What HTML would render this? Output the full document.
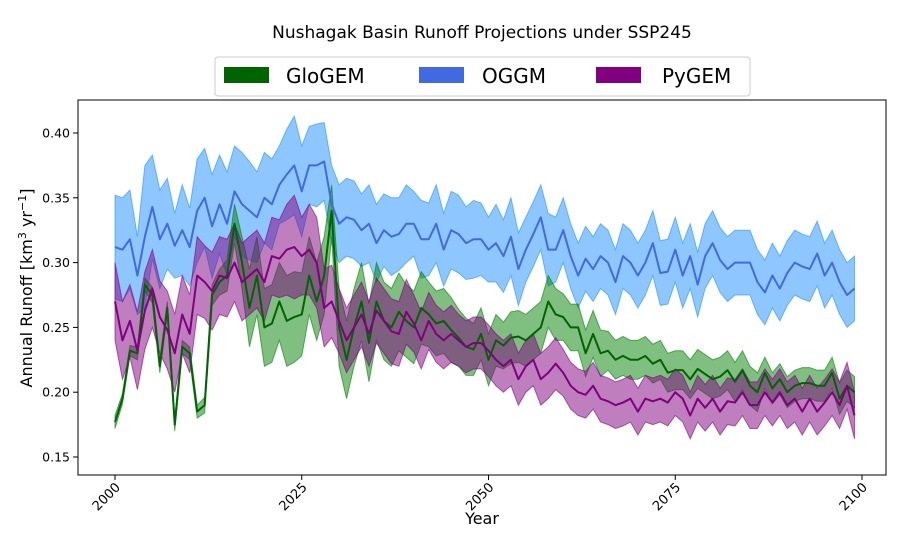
<!DOCTYPE html>
<html><head><meta charset="utf-8"><style>
body{margin:0;background:#fff;}
svg{display:block;font-family:"DejaVu Sans","Liberation Sans",sans-serif;}
</style></head><body>
<svg id="chart" width="900" height="540" viewBox="0 0 900 540">
<text x="482" y="38" font-size="17" text-anchor="middle">Nushagak Basin Runoff Projections under SSP245</text>
<g>
<rect x="215" y="57" width="535" height="39" rx="3" fill="#fff" stroke="#ccc"/>
<g><rect x="224" y="67" width="45" height="16" fill="#006400"/><text x="286" y="83" font-size="20">GloGEM</text></g>
<g><rect x="419" y="67" width="45" height="16" fill="#4169e1"/><text x="482" y="83" font-size="20">OGGM</text></g>
<g><rect x="596" y="67" width="45" height="16" fill="#800080"/><text x="662" y="83" font-size="20">PyGEM</text></g>
</g>
<g id="plot"></g>
<rect x="78" y="100" width="808" height="375" fill="none" stroke="#000" stroke-width="1"/>
<g id="axes"></g>
<text x="482" y="524" font-size="16" text-anchor="middle">Year</text>
<text transform="translate(32,288) rotate(-90)" font-size="16" text-anchor="middle">Annual Runoff [km<tspan baseline-shift="super" font-size="11">3</tspan> yr<tspan baseline-shift="super" font-size="11">−1</tspan>]</text>
</svg>
<script>
const startYear = 2000;
const oggmMean = [0.312,0.310,0.318,0.290,0.320,0.343,0.318,0.330,0.313,0.325,0.312,0.340,0.350,0.328,0.345,0.330,0.355,0.345,0.340,0.335,0.350,0.345,0.360,0.368,0.375,0.355,0.375,0.375,0.378,0.345,0.330,0.335,0.333,0.325,0.330,0.315,0.325,0.320,0.322,0.330,0.330,0.318,0.318,0.330,0.310,0.325,0.322,0.315,0.318,0.318,0.310,0.315,0.305,0.320,0.295,0.310,0.322,0.335,0.310,0.310,0.325,0.305,0.290,0.303,0.295,0.305,0.300,0.285,0.305,0.300,0.290,0.300,0.315,0.292,0.293,0.310,0.290,0.305,0.283,0.305,0.315,0.302,0.295,0.300,0.300,0.300,0.285,0.277,0.290,0.280,0.292,0.300,0.297,0.295,0.307,0.290,0.300,0.285,0.275,0.280];
const oggmSpread = [0.040,0.040,0.038,0.030,0.055,0.040,0.038,0.035,0.025,0.035,0.030,0.040,0.038,0.040,0.038,0.040,0.035,0.040,0.038,0.035,0.035,0.035,0.030,0.035,0.038,0.035,0.030,0.032,0.030,0.030,0.030,0.030,0.030,0.028,0.030,0.030,0.028,0.030,0.028,0.030,0.025,0.030,0.028,0.030,0.028,0.030,0.030,0.028,0.030,0.028,0.025,0.030,0.028,0.030,0.028,0.025,0.025,0.025,0.028,0.025,0.025,0.025,0.025,0.025,0.025,0.025,0.025,0.025,0.025,0.025,0.025,0.025,0.025,0.025,0.025,0.025,0.025,0.025,0.025,0.025,0.025,0.025,0.025,0.025,0.025,0.025,0.025,0.025,0.025,0.025,0.025,0.025,0.025,0.025,0.025,0.025,0.025,0.025,0.025,0.025];
const glogemMean = [0.177,0.195,0.232,0.230,0.283,0.275,0.220,0.265,0.175,0.235,0.230,0.185,0.190,0.275,0.285,0.290,0.330,0.300,0.265,0.290,0.250,0.253,0.270,0.255,0.258,0.260,0.290,0.270,0.290,0.340,0.250,0.225,0.250,0.270,0.238,0.270,0.255,0.250,0.262,0.255,0.250,0.265,0.260,0.253,0.255,0.248,0.242,0.235,0.233,0.245,0.225,0.240,0.236,0.242,0.243,0.240,0.245,0.250,0.270,0.260,0.258,0.250,0.250,0.230,0.245,0.230,0.232,0.225,0.228,0.225,0.225,0.228,0.222,0.225,0.215,0.217,0.217,0.210,0.218,0.214,0.210,0.212,0.217,0.208,0.217,0.205,0.200,0.215,0.203,0.210,0.200,0.205,0.207,0.207,0.205,0.205,0.215,0.195,0.205,0.200];
const glogemSpread = [0.005,0.004,0.004,0.005,0.005,0.006,0.005,0.005,0.005,0.005,0.005,0.005,0.006,0.008,0.010,0.012,0.015,0.020,0.030,0.030,0.030,0.030,0.030,0.035,0.035,0.032,0.030,0.030,0.030,0.020,0.030,0.030,0.030,0.030,0.030,0.030,0.030,0.030,0.030,0.028,0.028,0.028,0.025,0.025,0.025,0.025,0.022,0.022,0.020,0.020,0.020,0.020,0.018,0.020,0.020,0.020,0.020,0.020,0.020,0.020,0.018,0.018,0.018,0.018,0.018,0.018,0.015,0.015,0.015,0.015,0.015,0.015,0.015,0.015,0.015,0.015,0.015,0.015,0.015,0.015,0.015,0.015,0.015,0.015,0.015,0.015,0.015,0.012,0.012,0.012,0.012,0.012,0.012,0.012,0.012,0.012,0.012,0.012,0.012,0.012];
const pygemMean = [0.270,0.240,0.255,0.232,0.263,0.280,0.258,0.248,0.230,0.260,0.245,0.290,0.285,0.278,0.290,0.288,0.300,0.285,0.290,0.295,0.285,0.305,0.303,0.310,0.312,0.305,0.310,0.300,0.265,0.270,0.255,0.240,0.250,0.260,0.245,0.263,0.255,0.247,0.245,0.262,0.253,0.240,0.255,0.245,0.240,0.245,0.240,0.235,0.238,0.238,0.232,0.225,0.220,0.225,0.210,0.220,0.225,0.210,0.215,0.222,0.215,0.205,0.200,0.198,0.205,0.195,0.193,0.190,0.192,0.195,0.185,0.195,0.193,0.195,0.192,0.200,0.195,0.182,0.195,0.188,0.195,0.185,0.193,0.192,0.200,0.190,0.190,0.200,0.192,0.200,0.190,0.195,0.185,0.195,0.185,0.192,0.200,0.190,0.205,0.182];
const pygemSpread = [0.030,0.030,0.028,0.030,0.030,0.030,0.028,0.030,0.030,0.030,0.030,0.030,0.028,0.030,0.030,0.030,0.030,0.030,0.030,0.030,0.030,0.030,0.030,0.035,0.040,0.030,0.035,0.035,0.030,0.028,0.025,0.025,0.025,0.025,0.025,0.025,0.025,0.025,0.025,0.025,0.022,0.022,0.022,0.022,0.022,0.022,0.020,0.020,0.020,0.020,0.020,0.020,0.020,0.020,0.020,0.020,0.020,0.020,0.020,0.020,0.018,0.018,0.018,0.018,0.018,0.018,0.018,0.018,0.018,0.018,0.018,0.018,0.018,0.018,0.018,0.018,0.018,0.018,0.018,0.018,0.018,0.018,0.018,0.018,0.018,0.018,0.018,0.018,0.018,0.018,0.018,0.018,0.018,0.018,0.018,0.018,0.018,0.018,0.018,0.018];
const xTicks = [2000,2025,2050,2075,2100];
const yTicks = [0.15,0.20,0.25,0.30,0.35,0.40];

const NS='http://www.w3.org/2000/svg';
const xS = y => 115 + (y-2000)*(862-115)/100;
const yS = v => 457 - (v-0.15)*(457-133)/0.25;
const plot = document.getElementById('plot');
const axes = document.getElementById('axes');

function band(mean, spread, fill, name){
  let up = mean.map((m,i)=>xS(startYear+i)+','+yS(m+spread[i]));
  let lo = mean.map((m,i)=>xS(startYear+i)+','+yS(m-spread[i])).reverse();
  const p = document.createElementNS(NS,'polygon');
  p.setAttribute('points', up.concat(lo).join(' '));
  p.setAttribute('fill', fill);
  p.setAttribute('fill-opacity','0.5');
  p.setAttribute('stroke', fill);
  p.setAttribute('stroke-opacity','0.6');
  p.setAttribute('stroke-width','1');
  
  
  plot.appendChild(p);
}
function line(mean, color, name){
  const p = document.createElementNS(NS,'polyline');
  p.setAttribute('points', mean.map((m,i)=>xS(startYear+i)+','+yS(m)).join(' '));
  p.setAttribute('fill','none');
  p.setAttribute('stroke', color);
  p.setAttribute('stroke-width','2');
  p.setAttribute('stroke-linejoin','round');
  
  
  plot.appendChild(p);
}
band(oggmMean, oggmSpread, '#1e90ff', 'oggm-band');
band(glogemMean, glogemSpread, '#008000', 'glogem-band');
band(pygemMean, pygemSpread, '#800080', 'pygem-band');
line(glogemMean, '#006400', 'glogem-line');
line(oggmMean, '#4169e1', 'oggm-line');
line(pygemMean, '#800080', 'pygem-line');

xTicks.forEach(t=>{
  const x = xS(t);
  const l = document.createElementNS(NS,'line');
  l.setAttribute('x1',x);l.setAttribute('x2',x);l.setAttribute('y1',475);l.setAttribute('y2',480);
  l.setAttribute('stroke','#000');
  
  
  axes.appendChild(l);
  const tx = document.createElementNS(NS,'text');
  tx.setAttribute('transform',`translate(${x+6},${488}) rotate(-45)`);
  tx.setAttribute('text-anchor','end');
  tx.setAttribute('font-size','13');
  tx.textContent = t;
  
  
  axes.appendChild(tx);
});
yTicks.forEach(t=>{
  const y = yS(t);
  const l = document.createElementNS(NS,'line');
  l.setAttribute('x1',73);l.setAttribute('x2',78);l.setAttribute('y1',y);l.setAttribute('y2',y);
  l.setAttribute('stroke','#000');
  
  
  axes.appendChild(l);
  const tx = document.createElementNS(NS,'text');
  tx.setAttribute('x',70);tx.setAttribute('y',y+4.5);
  tx.setAttribute('text-anchor','end');
  tx.setAttribute('font-size','12.5');
  tx.textContent = t.toFixed(2);
  
  
  axes.appendChild(tx);
});
</script>
</body></html>
